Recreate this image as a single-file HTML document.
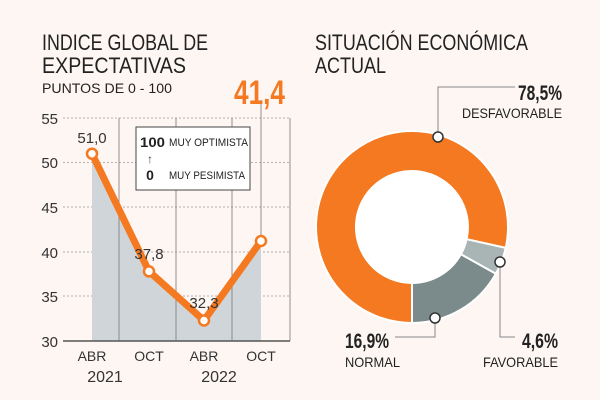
<!DOCTYPE html>
<html><head><meta charset="utf-8"><style>
html,body{margin:0;padding:0;background:#fdf6f3;}
svg{display:block;font-family:"Liberation Sans Narrow","Liberation Sans",sans-serif;}
</style></head><body>
<svg width="600" height="400" viewBox="0 0 600 400">
<rect width="600" height="400" fill="#fdf6f3"/>
<text x="42" y="50" font-size="22" fill="#222" textLength="166" lengthAdjust="spacingAndGlyphs">INDICE GLOBAL DE</text>
<text x="42" y="73" font-size="22" fill="#222" textLength="144" lengthAdjust="spacingAndGlyphs">EXPECTATIVAS</text>
<text x="42" y="93" font-size="14" fill="#222" textLength="130" lengthAdjust="spacingAndGlyphs">PUNTOS  DE 0 - 100</text>
<text x="315" y="50" font-size="22" fill="#222" textLength="213" lengthAdjust="spacingAndGlyphs">SITUACIÓN ECONÓMICA</text>
<text x="315" y="73" font-size="22" fill="#222" textLength="71" lengthAdjust="spacingAndGlyphs">ACTUAL</text>
<g stroke="#999" stroke-width="0.8" stroke-dasharray="2,2">
<line x1="63" y1="118" x2="290" y2="118"/>
<line x1="63" y1="162.6" x2="290" y2="162.6"/>
<line x1="63" y1="207" x2="290" y2="207"/>
<line x1="63" y1="252" x2="290" y2="252"/>
<line x1="63" y1="296" x2="290" y2="296"/>
</g>
<polygon points="92,153.7 149,271.4 204,320.5 261,241 261,341 92,341" fill="#cfd5d8"/>
<g stroke="#777" stroke-width="0.8">
<line x1="119" y1="118" x2="119" y2="341"/>
<line x1="176" y1="118" x2="176" y2="341"/>
<line x1="232" y1="118" x2="232" y2="341"/>
<line x1="290" y1="118" x2="290" y2="341"/>
<line x1="261" y1="100" x2="261" y2="240"/>
</g>
<line x1="63" y1="341" x2="290" y2="341" stroke="#555" stroke-width="1.5"/>
<g font-size="15" fill="#333" text-anchor="end">
<text x="58" y="124">55</text><text x="58" y="168">50</text><text x="58" y="213">45</text>
<text x="58" y="258">40</text><text x="58" y="302">35</text><text x="58" y="347">30</text>
</g>
<polyline points="92,153.7 149,271.4 204,320.5 261,241" fill="none" stroke="#f47920" stroke-width="7" stroke-linejoin="round"/>
<g fill="#fff" stroke="#f47920" stroke-width="2.5">
<circle cx="92" cy="153.7" r="5"/><circle cx="149" cy="271.4" r="5"/><circle cx="204" cy="320.5" r="5"/><circle cx="261" cy="241" r="5"/>
</g>
<g font-size="15" fill="#333" text-anchor="middle">
<text x="92" y="143">51,0</text><text x="149" y="259">37,8</text><text x="204" y="308">32,3</text>
<text x="92" y="361" font-size="14">ABR</text><text x="149" y="361" font-size="14">OCT</text>
<text x="204" y="361" font-size="14">ABR</text><text x="261" y="361" font-size="14">OCT</text>
<text x="105" y="382" font-size="16">2021</text><text x="219" y="382" font-size="16">2022</text>
</g>
<text x="234" y="104" font-size="34" font-weight="bold" fill="#f47920" textLength="51" lengthAdjust="spacingAndGlyphs">41,4</text>
<rect x="136" y="127" width="114" height="63" fill="#fff" stroke="#444" stroke-width="1"/>
<text x="140" y="147" font-size="14" font-weight="bold" fill="#222" textLength="25" lengthAdjust="spacingAndGlyphs">100</text>
<text x="169" y="146" font-size="11" fill="#222" textLength="79" lengthAdjust="spacingAndGlyphs">MUY OPTIMISTA</text>
<text x="150" y="163" font-size="12" fill="#444" text-anchor="middle">↑</text>
<text x="150" y="180" font-size="14" font-weight="bold" fill="#222" text-anchor="middle">0</text>
<text x="169" y="179" font-size="11" fill="#222" textLength="76" lengthAdjust="spacingAndGlyphs">MUY PESIMISTA</text>
<circle cx="412" cy="227" r="57" fill="#fff"/>
<path d="M 412,323 A 96,96 0 1 1 505.7,247.9 L 466.6,239.2 A 56,56 0 1 0 412,283 Z" fill="#f47920" stroke="#fff" stroke-width="2"/>
<path d="M 505.7,247.9 A 96,96 0 0 1 495.8,273.8 L 460.9,254.3 A 56,56 0 0 0 466.6,239.2 Z" fill="#a9b5b5" stroke="#fff" stroke-width="2"/>
<path d="M 495.8,273.8 A 96,96 0 0 1 412,323 L 412,283 A 56,56 0 0 0 460.9,254.3 Z" fill="#7b8a8a" stroke="#fff" stroke-width="2"/>
<g stroke="#888" stroke-width="1" fill="none">
<polyline points="438,137 438,87 515,87"/>
<polyline points="435,318 435,337 395,337"/>
<polyline points="500,262 500,337 515,337"/>
</g>
<g fill="#fff" stroke="#333" stroke-width="1.5">
<circle cx="438" cy="137" r="5"/><circle cx="500" cy="262" r="5"/><circle cx="435" cy="318" r="5"/>
</g>
<g fill="#222">
<text x="518" y="100" font-size="21" font-weight="bold" textLength="44" lengthAdjust="spacingAndGlyphs">78,5%</text>
<text x="462" y="118" font-size="14" textLength="100" lengthAdjust="spacingAndGlyphs">DESFAVORABLE</text>
<text x="522" y="348" font-size="21" font-weight="bold" textLength="36" lengthAdjust="spacingAndGlyphs">4,6%</text>
<text x="483" y="367" font-size="14" textLength="75" lengthAdjust="spacingAndGlyphs">FAVORABLE</text>
<text x="345" y="348" font-size="21" font-weight="bold" textLength="44" lengthAdjust="spacingAndGlyphs">16,9%</text>
<text x="345" y="367" font-size="14" textLength="55" lengthAdjust="spacingAndGlyphs">NORMAL</text>
</g>
</svg>
</body></html>
